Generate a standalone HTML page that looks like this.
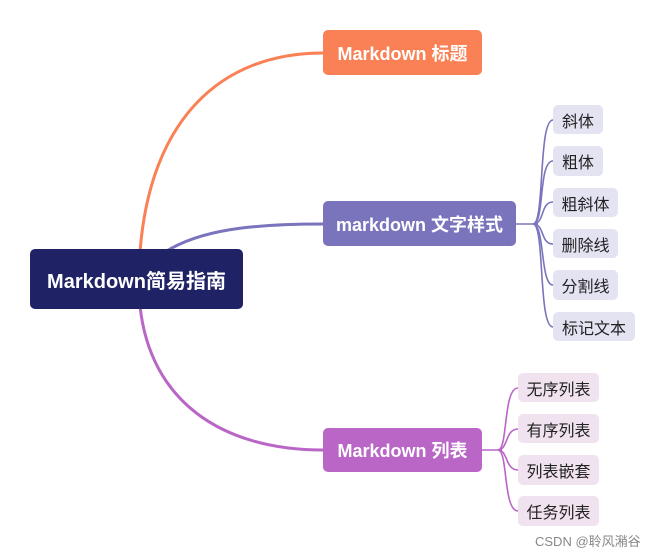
<!DOCTYPE html>
<html><head><meta charset="utf-8"><style>
body{margin:0;width:665px;height:558px;background:#fff;position:relative;overflow:hidden;font-family:"Liberation Sans","Noto Sans CJK SC",sans-serif;}
.n{position:absolute;display:flex;align-items:center;justify-content:center;border-radius:5px;font-weight:bold;color:#fff;white-space:nowrap;}
.c{position:absolute;display:flex;align-items:center;justify-content:center;border-radius:5px;font-size:16px;color:#222;white-space:nowrap;}
.s{background:#e4e3f2}.l{background:#f0e2ef}
</style></head><body>
<svg width="665" height="558" style="position:absolute;left:0;top:0" fill="none">
<path d="M140 252 C150 120 220 53 323 53" stroke="#fa8155" stroke-width="3"/>
<path d="M165 252 C200 230 250 224 323 224" stroke="#7a74bc" stroke-width="3"/>
<path d="M140 306 C150 400 220 450 323 450" stroke="#b966c6" stroke-width="3"/>
<g stroke="#7a74bc" stroke-width="1.6">
<path d="M516 224 L538 224"/>
<path d="M533 224 C545 224 538 120 553 120"/>
<path d="M533 224 C545 224 538 161 553 161"/>
<path d="M533 224 C545 224 540 202 553 202"/>
<path d="M533 224 C545 224 540 244 553 244"/>
<path d="M533 224 C545 224 540 285 553 285"/>
<path d="M533 224 C545 224 538 327 553 327"/>
</g>
<g stroke="#b966c6" stroke-width="1.6">
<path d="M482 450 L502 450"/>
<path d="M498 450 C508 450 503 388 518 388"/>
<path d="M498 450 C508 450 505 429 518 429"/>
<path d="M498 450 C508 450 505 470 518 470"/>
<path d="M498 450 C508 450 503 511 518 511"/>
</g>
</svg>
<div class="n" style="left:30px;top:249px;width:213px;height:60px;background:#1f2365;font-size:20px">Markdown简易指南</div>
<div class="n" style="left:323px;top:30px;width:159px;height:45px;background:#fa8155;font-size:18px">Markdown 标题</div>
<div class="n" style="left:323px;top:201px;width:193px;height:45px;background:#7a74bc;font-size:18px">markdown 文字样式</div>
<div class="n" style="left:323px;top:428px;width:159px;height:44px;background:#b966c6;font-size:18px">Markdown 列表</div>
<div class="c s" style="left:553px;top:105px;width:50px;height:29px">斜体</div>
<div class="c s" style="left:553px;top:146px;width:50px;height:30px">粗体</div>
<div class="c s" style="left:553px;top:188px;width:65px;height:29px">粗斜体</div>
<div class="c s" style="left:553px;top:229px;width:65px;height:29px">删除线</div>
<div class="c s" style="left:553px;top:270px;width:65px;height:30px">分割线</div>
<div class="c s" style="left:553px;top:312px;width:82px;height:29px">标记文本</div>
<div class="c l" style="left:518px;top:373px;width:81px;height:29px">无序列表</div>
<div class="c l" style="left:518px;top:414px;width:81px;height:29px">有序列表</div>
<div class="c l" style="left:518px;top:455px;width:81px;height:30px">列表嵌套</div>
<div class="c l" style="left:518px;top:496px;width:81px;height:30px">任务列表</div>
<div style="position:absolute;left:535px;top:531px;font-size:13px;color:#888">CSDN @聆风潲谷</div>
</body></html>
